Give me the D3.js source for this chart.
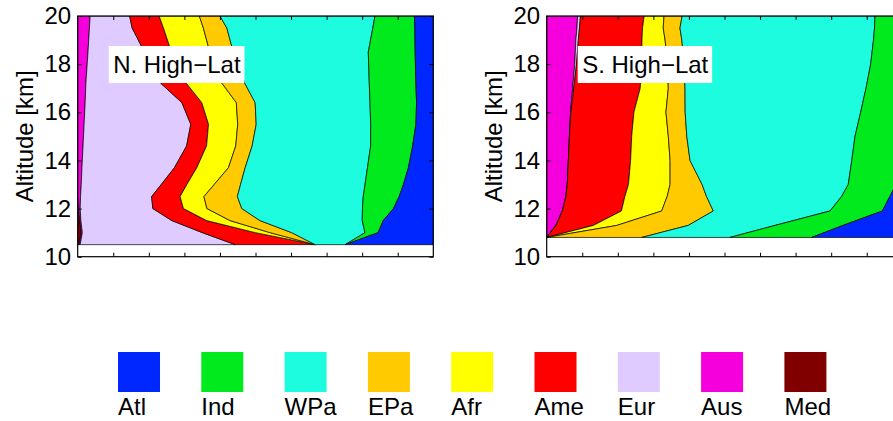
<!DOCTYPE html>
<html>
<head>
<meta charset="utf-8">
<script src="https://cdn.jsdelivr.net/npm/d3@7"></script>
<style>
  body { margin: 0; background: #fff; }
  text { font-family: Arial, "Liberation Sans", Helvetica, sans-serif; fill: #000; }
</style>
</head>
<body>
<svg id="chart" width="893" height="421"></svg>
<script>
// Source-region contributions (fractions) vs altitude, stacked left to right
var regions = ['Med', 'Aus', 'Eur', 'Ame', 'Afr', 'EPa', 'WPa', 'Ind', 'Atl'];
var regionColors = ['#800000', '#f500dc', '#dfcbff', '#ff0000', '#ffff00', '#ffcb00', '#1efce0', '#00ea1d', '#0027ff'];
var legendOrder = ['Atl', 'Ind', 'WPa', 'EPa', 'Afr', 'Ame', 'Eur', 'Aus', 'Med'];
var altTicks = [10, 12, 14, 16, 18, 20];
var fracTicks = [0.1, 0.2, 0.3, 0.4, 0.5, 0.6, 0.7, 0.8, 0.9];

// N. High-Lat
var nAlt = [10.5, 11, 11.5, 12, 12.5, 13, 13.7, 14.6, 15.5, 16.4, 17.2, 18.5, 19.5, 20];
var nMed = [0.004, 0.010, 0.006, 0.002, 0, 0, 0, 0, 0, 0, 0, 0, 0, 0];
var nAus = [0.003, 0.003, 0.003, 0.005, 0.008, 0.010, 0.012, 0.015, 0.018, 0.021, 0.023, 0.029, 0.033, 0.035];
var nEur = [0.436, 0.337, 0.256, 0.204, 0.200, 0.225, 0.260, 0.291, 0.300, 0.272, 0.211, 0.159, 0.120, 0.111];
var nAme = [0.225, 0.149, 0.098, 0.086, 0.080, 0.072, 0.063, 0.056, 0.050, 0.056, 0.072, 0.076, 0.088, 0.083];
var nAfr = [0, 0.041, 0.066, 0.066, 0.067, 0.077, 0.089, 0.082, 0.082, 0.097, 0.100, 0.108, 0.112, 0.113];
var nEPa = [0, 0.061, 0.084, 0.098, 0.094, 0.074, 0.047, 0.046, 0.052, 0.053, 0.064, 0.066, 0.066, 0.058];
var nWPa = [0.084, 0.206, 0.288, 0.339, 0.354, 0.350, 0.344, 0.333, 0.322, 0.323, 0.350, 0.380, 0.410, 0.436];
var nInd = [0, 0.037, 0.059, 0.087, 0.101, 0.108, 0.115, 0.118, 0.127, 0.131, 0.131, 0.132, 0.118, 0.111];
var nAtl = [0.248, 0.155, 0.141, 0.112, 0.096, 0.084, 0.070, 0.058, 0.049, 0.047, 0.049, 0.051, 0.052, 0.053];

// S. High-Lat
var sAlt = [10.8, 11.3, 11.9, 12.5, 13, 14, 15, 16, 17, 18, 19, 19.5, 20];
var sMed = [0, 0, 0, 0, 0, 0, 0, 0, 0, 0, 0, 0, 0];
var sAus = [0, 0.026, 0.044, 0.054, 0.058, 0.061, 0.064, 0.067, 0.073, 0.079, 0.082, 0.085, 0.087];
var sEur = [0, 0, 0, 0, 0, 0, 0, 0.001, 0.003, 0.005, 0.007, 0.007, 0.008];
var sAme = [0, 0.105, 0.166, 0.166, 0.172, 0.175, 0.175, 0.177, 0.187, 0.183, 0.179, 0.177, 0.179];
var sAfr = [0, 0.066, 0.113, 0.119, 0.117, 0.111, 0.103, 0.090, 0.079, 0.073, 0.065, 0.058, 0.056];
var sEPa = [0.267, 0.201, 0.145, 0.111, 0.090, 0.056, 0.052, 0.054, 0.047, 0.047, 0.047, 0.047, 0.051];
var sWPa = [0.248, 0.244, 0.328, 0.380, 0.411, 0.455, 0.473, 0.493, 0.509, 0.525, 0.539, 0.546, 0.542];
var sInd = [0.230, 0.191, 0.147, 0.136, 0.134, 0.130, 0.123, 0.107, 0.092, 0.079, 0.071, 0.068, 0.067];
var sAtl = [0.255, 0.167, 0.056, 0.035, 0.018, 0.012, 0.010, 0.010, 0.010, 0.010, 0.010, 0.010, 0.010];

var panels = [
  { label: 'N. High\u2212Lat', left: 77.7, alt: nAlt,
    series: { Med: nMed, Aus: nAus, Eur: nEur, Ame: nAme, Afr: nAfr, EPa: nEPa, WPa: nWPa, Ind: nInd, Atl: nAtl } },
  { label: 'S. High\u2212Lat', left: 546.7, alt: sAlt,
    series: { Med: sMed, Aus: sAus, Eur: sEur, Ame: sAme, Afr: sAfr, EPa: sEPa, WPa: sWPa, Ind: sInd, Atl: sAtl } }
];

var svg = d3.select('#chart');
var plotW = 355.6, plotTop = 16, plotBottom = 256.7;
var color = d3.scaleOrdinal().domain(regions).range(regionColors);

panels.forEach(function(p, pi) {
  var x = d3.scaleLinear().domain([0, 1]).range([p.left, p.left + plotW]);
  var y = d3.scaleLinear().domain([10, 20]).range([plotBottom, plotTop]);

  var rows = p.alt.map(function(a, i) {
    var r = { alt: a };
    regions.forEach(function(k) { r[k] = p.series[k][i]; });
    return r;
  });

  var stacked = d3.stack().keys(regions).offset(d3.stackOffsetExpand)(rows);

  svg.append('clipPath').attr('id', 'clip' + pi)
    .append('rect')
    .attr('x', p.left).attr('y', plotTop)
    .attr('width', plotW).attr('height', plotBottom - plotTop);

  var area = d3.area()
    .y(function(d) { return y(d.data.alt); })
    .x0(function(d) { return x(d[0]); })
    .x1(function(d) { return x(d[1]); });

  var g = svg.append('g').attr('clip-path', 'url(#clip' + pi + ')');
  g.selectAll('path')
    .data(stacked)
    .join('path')
    .attr('d', area)
    .attr('fill', function(d) { return color(d.key); })
    .attr('stroke', '#000')
    .attr('stroke-width', 0.7)
    .attr('stroke-linejoin', 'round');

  // axes with inward ticks on all four sides
  svg.append('g')
    .attr('transform', 'translate(' + p.left + ',0)')
    .call(d3.axisLeft(y).tickValues(altTicks).tickSizeInner(-4).tickSizeOuter(0).tickPadding(6.5))
    .call(function(ax) {
      ax.select('.domain').remove();
      ax.attr('font-family', null).attr('font-size', null);
      ax.selectAll('text').style('font-size', '24px');
    });
  svg.append('g')
    .attr('transform', 'translate(' + (p.left + plotW) + ',0)')
    .call(d3.axisRight(y).tickValues(altTicks).tickSizeInner(-4).tickSizeOuter(0).tickFormat(''))
    .call(function(ax) { ax.select('.domain').remove(); });
  svg.append('g')
    .attr('transform', 'translate(0,' + plotBottom + ')')
    .call(d3.axisBottom(x).tickValues(fracTicks).tickSizeInner(-4).tickSizeOuter(0).tickFormat(''))
    .call(function(ax) { ax.select('.domain').remove(); });
  svg.append('g')
    .attr('transform', 'translate(0,' + plotTop + ')')
    .call(d3.axisTop(x).tickValues(fracTicks).tickSizeInner(-4).tickSizeOuter(0).tickFormat(''))
    .call(function(ax) { ax.select('.domain').remove(); });

  svg.append('rect')
    .attr('x', p.left).attr('y', plotTop)
    .attr('width', plotW).attr('height', plotBottom - plotTop)
    .attr('fill', 'none').attr('stroke', '#000').attr('stroke-width', 1.2);

  svg.append('text')
    .attr('transform', 'translate(' + (p.left - 44.5) + ',' + ((plotTop + plotBottom) / 2) + ') rotate(-90)')
    .attr('text-anchor', 'middle')
    .style('font-size', '24px')
    .text('Altitude [km]');

  // panel label with white box
  var lx = p.left + 35.5, ly = 73.3;
  var box = svg.append('rect').attr('fill', '#fff');
  var lab = svg.append('text')
    .attr('x', lx).attr('y', ly)
    .style('font-size', '24px')
    .text(p.label);
  var bb = lab.node().getBBox();
  box.attr('x', lx - 4.5).attr('y', 46).attr('width', bb.width + 8).attr('height', 37);
});

// legend
var legend = svg.append('g');
var lg = legend.selectAll('g')
  .data(legendOrder)
  .join('g')
  .attr('transform', function(d, i) { return 'translate(' + (118 + i * 83.3) + ',0)'; });
lg.append('rect')
  .attr('x', 0).attr('y', 352)
  .attr('width', 42).attr('height', 40)
  .attr('fill', function(d) { return color(d); });
lg.append('text')
  .attr('x', 0).attr('y', 415)
  .style('font-size', '24px')
  .text(function(d) { return d; });
</script>
</body>
</html>
